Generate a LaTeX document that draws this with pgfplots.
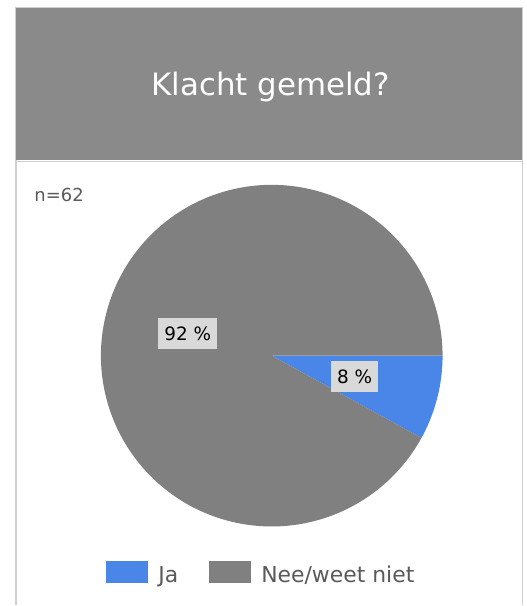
\documentclass[border=0pt]{standalone}
\usepackage{pgfplots}
\usepackage{pgfplotstable}
\pgfplotsset{compat=1.18}
\usepackage{fontspec}
\setmainfont{DejaVu Sans}

\definecolor{header}{HTML}{8A8A8A}
\definecolor{frame}{HTML}{CFCFCF}
\definecolor{jablue}{HTML}{4A86E8}
\definecolor{neegray}{HTML}{808080}
\definecolor{lblbox}{HTML}{D9D9D9}
\definecolor{txtgray}{HTML}{5A5A5A}

% share of answers, in percent
\pgfplotstableread{
label value
Ja 8
Nee 92
}\piedata

\begin{document}
\begin{tikzpicture}
\pgfplotstablegetelem{0}{value}\of\piedata \edef\vJa{\pgfplotsretval}
\pgfplotstablegetelem{1}{value}\of\piedata \edef\vNee{\pgfplotsretval}
\begin{axis}[
  scale only axis,
  width=527bp, height=606bp,
  xmin=0, xmax=527, ymin=0, ymax=606,
  y dir=reverse,
  axis lines=none,
  clip=false,
]
% frame and header
\fill[white] (axis cs:0,0) rectangle (axis cs:527,606);
\draw[frame, line width=1.2bp] (axis cs:16,606) -- (axis cs:16,8) -- (axis cs:523,8) -- (axis cs:523,606);
\fill[header] (axis cs:16.5,8.5) rectangle (axis cs:522.5,160);
\draw[frame, line width=1.5bp] (axis cs:16,161.5) -- (axis cs:523,161.5);
\node[white, font=\fontsize{31}{36}\selectfont] at (axis cs:271,87) {Klacht gemeld?};
\node[txtgray, anchor=base west, font=\fontsize{18}{20}\selectfont] at (axis cs:31,202) {n=62};

% slices: Ja clockwise from 0 degrees, Nee the rest
\addplot[fill=jablue, draw=none, domain={-3.6*\vJa}:0, samples=40]
  ({272+171*cos(x)}, {356-171*sin(x)}) -- (axis cs:272,356) -- cycle;
\addplot[fill=neegray, draw=none, domain=0:{3.6*\vNee}, samples=200]
  ({272+171*cos(x)}, {356-171*sin(x)}) -- (axis cs:272,356) -- cycle;

% value labels
\tikzset{vlab/.style={fill=lblbox, inner xsep=6bp, inner ysep=0bp, minimum height=31bp,
  font=\fontsize{18.5}{20}\selectfont}}
\node[vlab] at (axis cs:188,334) {\vNee\ \%};
\node[vlab] at (axis cs:355,377) {\vJa\ \%};

% legend
\fill[jablue] (axis cs:106,562) rectangle (axis cs:148,584);
\node[txtgray, anchor=base west, font=\fontsize{22}{24}\selectfont] at (axis cs:155,583) {Ja};
\fill[neegray] (axis cs:209,562) rectangle (axis cs:251,584);
\node[txtgray, anchor=base west, font=\fontsize{22}{24}\selectfont] at (axis cs:258,583) {Nee/weet niet};
\end{axis}
\end{tikzpicture}
\end{document}
